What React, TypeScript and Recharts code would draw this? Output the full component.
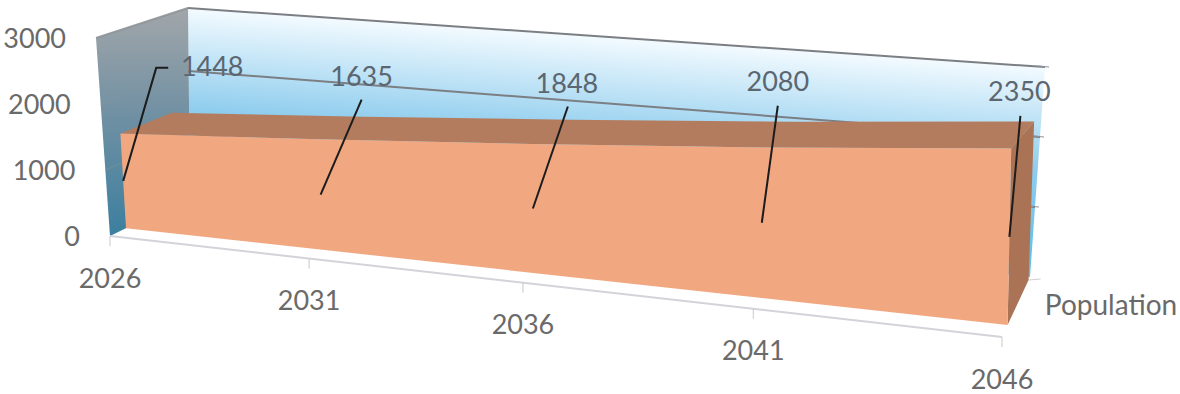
import React from 'react'
import { ComposedChart, Area, XAxis, YAxis, CartesianGrid } from 'recharts'

const years = [2026, 2031, 2036, 2041, 2046]
const population = [1448, 1635, 1848, 2080, 2350]
const valueTicks = [0, 1000, 2000, 3000]
const seriesName = 'Population'

const chartData = years.map((year, i) => ({ year, population: population[i] }))

const W = 1180
const H = 394
const FONT = 'Lato, sans-serif'
const TEXT = '#6a6a6a'
const FONT_SIZE = 27

// box corners on screen: [left-bottom, left-top, right-bottom, right-top]
const FRONT = [[110, 236], [96, 38], [1002, 337], [1004, 108]]
const BACK = [[190, 197], [188, 8], [1030, 277], [1045, 67]]
const FORESHORTEN = 1.16
const SOLID_FRONT = 0.2
const SOLID_BACK = 0.8
const SIDE_BASE = 0.95

// chart space (0..1 on each side) plus depth -> screen
const project = (u: number, v: number, d: number) => {
  const t = u / (u + (1 - u) * FORESHORTEN)
  const corner = (c: number[][], k: number) =>
    (c[0][k] * (1 - v) + c[1][k] * v) * (1 - t) + (c[2][k] * (1 - v) + c[3][k] * v) * t
  return {
    x: corner(FRONT, 0) * (1 - d) + corner(BACK, 0) * d,
    y: corner(FRONT, 1) * (1 - d) + corner(BACK, 1) * d,
  }
}
const toPoints = (list: { x: number; y: number }[]) => list.map((p) => `${p.x},${p.y}`).join(' ')

// leader lines and value labels sit at these offsets from the middle of each face column
const labelOffsets = [[89, -115], [41, -119], [34, -126], [16, -142], [10, -146]]
const leaderOffsets = [[33, -113], [41, -95], [35, -102], [16, -117], [11, -121]]

const Walls = () => {
  const left = [project(0, 0, 0), project(0, 1, 0), project(0, 1, 1), project(0, 0, 1)]
  const back = [project(0, 0, 1), project(0, 1, 1), project(1, 1, 1), project(1, 0, 1)]
  const floor = [project(0, 0, 0), project(1, 0, 0), project(1, 0, 1), project(0, 0, 1)]
  const floorA = project(0, 0, 0)
  const floorB = project(1, 0, 0)
  const depthTick = project(1, 0, SIDE_BASE)
  return (
    <g>
      <defs>
        <linearGradient id="backWall" gradientUnits="userSpaceOnUse" x1="617" y1="37" x2="603" y2="240">
          <stop offset="0" stopColor="#f4fbff" />
          <stop offset="0.5" stopColor="#8fcdee" />
          <stop offset="1" stopColor="#5dbfe9" />
        </linearGradient>
        <linearGradient id="leftWall" x1="0" y1="0" x2="0" y2="1">
          <stop offset="0" stopColor="#a2a6a9" />
          <stop offset="0.5" stopColor="#6d8fa3" />
          <stop offset="1" stopColor="#3c7f9f" />
        </linearGradient>
      </defs>
      <polygon points={toPoints(floor)} fill="#ffffff" />
      <polygon points={toPoints(back)} fill="url(#backWall)" />
      <polygon points={toPoints(left)} fill="url(#leftWall)" />
      <line x1={floorA.x} y1={floorA.y} x2={floorB.x} y2={floorB.y} stroke="#d2d4da" strokeWidth={2} />
      <line x1={depthTick.x} y1={depthTick.y} x2={depthTick.x + 12} y2={depthTick.y - 1} stroke="#cfcfcf" strokeWidth={1} />
      <text x={1111} y={304} textAnchor="middle" dominantBaseline="central" fontFamily={FONT} fontSize={FONT_SIZE + 1} fill={TEXT}>
        {seriesName}
      </text>
    </g>
  )
}

const GridLine = ({ y1 }: any) => {
  const v = 1 - y1 / H
  const a = project(0, v, 0)
  const b = project(0, v, 1)
  const c = project(1, v, 1)
  if (v < 0.01) return <g />
  const top = v > 0.99
  return (
    <g>
      <polyline points={toPoints([a, b])} fill="none" stroke="#8d9499" strokeOpacity={top ? 0.9 : 0.45} strokeWidth={top ? 2 : 1} />
      <line x1={b.x} y1={b.y} x2={c.x} y2={c.y} stroke="#7b7f84" strokeWidth={2} />
      <line x1={c.x - 8} y1={c.y - 1} x2={c.x + 4} y2={c.y} stroke="#8d9499" strokeWidth={1} />
    </g>
  )
}

const SolidDot = ({ index, points }: any) => {
  if (index !== population.length - 1 || !points) return <g key="solid" />
  const front = points.map((p: any) => project(p.x / W, 1 - p.y / H, SOLID_FRONT))
  const rear = points.map((p: any) => project(p.x / W, 1 - p.y / H, SOLID_BACK))
  const baseL = project(0, 0, SOLID_FRONT)
  const baseR = project(1, 0, SOLID_FRONT)
  const rearBase = project(1, 0, SIDE_BASE)
  return (
    <g key="solid">
      <polygon points={toPoints([...rear, ...[...front].reverse()])} fill="#b47c5e" />
      <polygon points={toPoints([front[front.length - 1], rear[rear.length - 1], rearBase, baseR])} fill="#aa7355" />
      <polygon points={toPoints([baseL, ...front, baseR])} fill="#f1a880" />
    </g>
  )
}

const ValueDot = ({ index, cx, cy, value }: any) => {
  const u = cx / W
  const v = 1 - cy / H
  const anchor = project(u, v / 2, SOLID_FRONT)
  const [lx, ly] = labelOffsets[index]
  const [tx, ty] = leaderOffsets[index]
  const tip = { x: anchor.x + tx, y: anchor.y + ty }
  const path = index === 0 ? [anchor, tip, { x: tip.x + 12, y: tip.y }] : [anchor, tip]
  const shown = Array.isArray(value) ? value[1] : value
  return (
    <g key={`value-${index}`}>
      <polyline points={toPoints(path)} fill="none" stroke="#1c1c1c" strokeWidth={2} />
      <text x={anchor.x + lx} y={anchor.y + ly} textAnchor="middle" dominantBaseline="central" fontFamily={FONT} fontSize={FONT_SIZE} fill="#5b6670">
        {shown}
      </text>
    </g>
  )
}

const YearTick = ({ x, payload }: any) => {
  const foot = project(x / W, 0, 0)
  return (
    <g>
      <line x1={foot.x} y1={foot.y} x2={foot.x} y2={foot.y + 10} stroke="#c9c9c9" strokeWidth={1} />
      <text x={foot.x} y={foot.y + 41} textAnchor="middle" dominantBaseline="central" fontFamily={FONT} fontSize={FONT_SIZE} fill={TEXT}>
        {payload.value}
      </text>
    </g>
  )
}

const ValueTick = ({ y, payload }: any) => {
  const p = project(0, 1 - y / H, 0)
  return (
    <text x={p.x - 30} y={p.y - 1} textAnchor="end" dominantBaseline="central" fontFamily={FONT} fontSize={FONT_SIZE} fill={TEXT}>
      {payload.value}
    </text>
  )
}

export default function App() {
  return (
    <div style={{ position: 'absolute', left: 0, top: 0, width: W, height: H, background: '#fff' }}>
      {/* axes need a size of 1 to draw, the negative margins keep the plot at the full chart size */}
      <ComposedChart width={W} height={H} data={chartData} margin={{ top: 0, right: 0, bottom: -1, left: -1 }}>
        <CartesianGrid horizontal={() => <Walls key="walls" />} vertical={false} horizontalValues={[3000]} />
        <CartesianGrid horizontal={GridLine as any} vertical={false} horizontalValues={valueTicks} />
        <XAxis dataKey="year" type="number" domain={[2026, 2046]} ticks={years} interval={0} height={1} axisLine={false} tickLine={false} tick={YearTick as any} />
        <YAxis type="number" domain={[0, 3000]} ticks={valueTicks} interval={0} width={1} axisLine={false} tickLine={false} tick={ValueTick as any} />
        <Area dataKey="population" fill="none" stroke="none" dot={SolidDot as any} activeDot={false} isAnimationActive={false} />
        <Area dataKey="population" fill="none" stroke="none" dot={ValueDot as any} activeDot={false} isAnimationActive={false} />
      </ComposedChart>
    </div>
  )
}
